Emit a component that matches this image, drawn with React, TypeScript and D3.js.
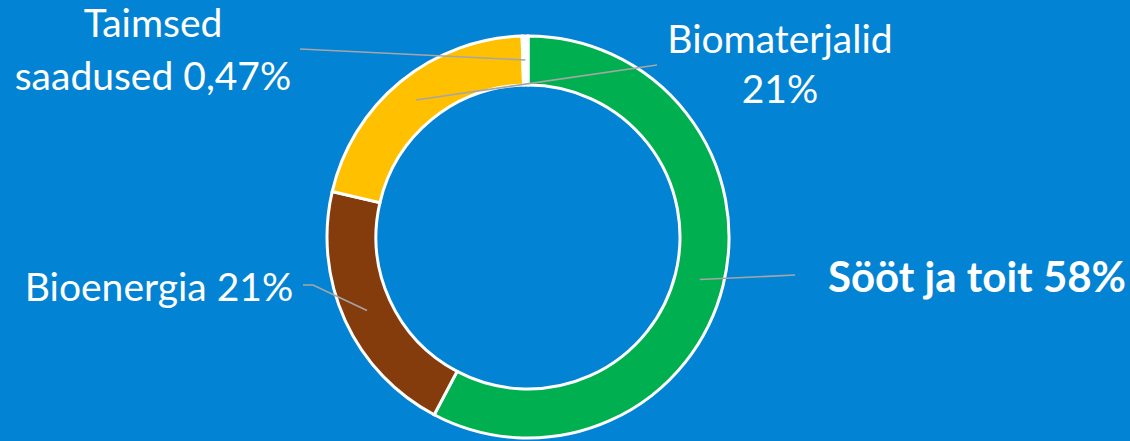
import React from "react";
import * as d3 from "d3";

const categories = ["Sööt ja toit", "Bioenergia", "Biomaterjalid", "Taimsed saadused"];
const values = [58, 21, 21, 0.47];
const labelLines = [["Sööt ja toit 58%"], ["Bioenergia 21%"], ["Biomaterjalid", "21%"], ["Taimsed", "saadused 0,47%"]];
const colors = ["#00B050", "#843C0C", "#FFC000", "#FFFFFF"];

const W = 1130;
const H = 441;
const cx = 528;
const cy = 237;
const outerR = 201;
const innerR = 152;
const FONT = "Lato, 'Open Sans', sans-serif";

// label layout: text anchor x, first baseline y, line height, bold, leader start points
const labelLayout = [
  { x: 977, y: 292, lh: 0, bold: true, size: 42, leader: [[795, 275]] },
  { x: 159, y: 301, lh: 0, bold: false, size: 39, leader: [[303, 285], [313, 285]] },
  { x: 780, y: 53, lh: 50, bold: false, size: 39, leader: [[657, 65]] },
  { x: 153, y: 37, lh: 53, bold: false, size: 39, leader: [[300, 49]] },
];

export default function App() {
  const pie = d3
    .pie<number>()
    .sort(null)
    .startAngle(0)
    .endAngle(2 * Math.PI)
    .value((d) => d);
  const arcs = pie(values);
  const arc = d3.arc<d3.PieArcDatum<number>>().innerRadius(innerR).outerRadius(outerR);
  const labelArc = d3.arc<d3.PieArcDatum<number>>().innerRadius(177).outerRadius(177);

  return (
    <svg
      width={W}
      height={H}
      style={{ position: "absolute", left: 0, top: 0, display: "block" }}
    >
      <rect x={0} y={0} width={W} height={H} fill="#0383D3" />
      <g transform={`translate(${cx},${cy})`}>
        {arcs.map((a, i) => (
          <path key={categories[i]} d={arc(a) || ""} fill={colors[i]} stroke="#FFFFFF" strokeWidth={3} strokeLinejoin="miter" />
        ))}
      </g>
      {arcs.map((a, i) => {
        const [ex, ey] = labelArc.centroid(a);
        const pts = [...labelLayout[i].leader, [ex + cx, ey + cy]];
        return (
          <path
            key={"l" + i}
            d={d3.line()(pts as [number, number][]) || ""}
            fill="none"
            stroke="#A6A6A6"
            strokeWidth={1.6}
          />
        );
      })}
      {labelLines.map((lines, i) => {
        const L = labelLayout[i];
        return (
          <text
            key={"t" + i}
            x={L.x}
            y={L.y}
            textAnchor="middle"
            fill="#FFFFFF"
            fontFamily={FONT}
            fontSize={L.size}
            fontWeight={L.bold ? 700 : 400}
          >
            {lines.map((ln, j) => (
              <tspan key={j} x={L.x} y={L.y + j * L.lh}>
                {ln}
              </tspan>
            ))}
          </text>
        );
      })}
    </svg>
  );
}
